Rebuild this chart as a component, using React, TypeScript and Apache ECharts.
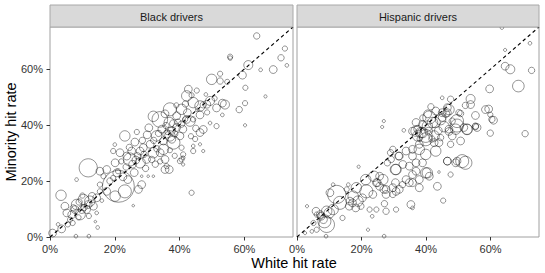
import React, { useEffect, useRef } from "react";
import * as echarts from "echarts";

// [white hit rate %, minority hit rate %, relative stop weight]
const blackPoints: number[][] = [
  [63.8,71.8,6],[72.5,67.3,4],[71.3,64.0,6],[73.1,61.3,2],[68.9,59.8,9],[65.0,59.7,2],[61.2,61.4,12],[59.4,57.8,9],[55.6,64.4,4],[55.6,63.9,3],
  [52.5,58.3,4],[54.7,55.4,4],[49.9,56.3,16],[52.5,55.7,6],[60.3,53.3,4],[66.5,50.2,1.5],[60.2,47.8,4],[58.4,45.5,6],[45.3,52.3,4],[48.1,50.9,2],
  [54.0,47.3,12],[53.2,43.6,2],[51.4,46.1,9],[60.2,39.9,1.5],[49.4,40.7,2],[47.3,38.4,9],
  [49.4,48.6,12],[47.3,47.2,6],[45.5,45.4,2],[43.7,50.6,4],[44.2,48.0,16],[42.4,44.4,9],[43.2,41.4,16],[41.7,42.0,4],[40.6,40.3,6],[39.1,39.1,9],
  [36.8,40.9,16],[36.0,36.7,9],[37.6,34.9,9],[35.0,34.3,9],[32.9,36.1,16],[30.9,33.1,9],[28.8,31.9,9],[27.8,30.7,9],[26.2,33.9,9],[25.2,30.7,9],
  [23.1,36.1,16],[23.7,28.9,9],[21.6,30.1,9],[24.7,27.7,25],[19.5,30.7,4],[20.1,26.5,9],[20.6,22.9,9],[34.0,30.1,9],[35.5,27.7,9],[31.4,27.7,6],
  [40.6,31.9,4],[44.2,30.7,4],[47.3,30.7,1.5],[46.3,33.1,1.5],[51.4,39.6,4],[40.6,27.7,4],[41.1,25.9,1.5],[35.5,24.1,9],[30.3,21.7,1],[31.9,21.7,1],
  [28.3,21.7,1],[44.2,42.0,4],
  [11.8,24.7,49],[21.1,18.1,150],[43.7,15.8,4],[8.2,20.5,2],[3.4,14.9,16],[0.8,1.4,9],[3.6,2.9,9],[14.7,3.4,2],[25.7,11.2,1],[41.1,28.3,2],
  [36.8,24.1,9],[36.0,25.3,4],[28.3,18.7,9],[27.3,17.0,9],[23.1,16.3,25],[20.1,14.6,16],[17.5,24.1,9],[15.4,23.5,9],[19.5,21.1,4],[17.5,16.3,9],
  [15.4,16.3,4],[14.4,14.0,9],[12.3,12.8,16],[10.3,13.4,16],[8.2,11.6,16],[7.7,9.8,9],[6.7,8.0,9],[6.2,6.2,4],[5.2,8.6,9],[9.8,9.8,9],
  [11.3,9.8,9],[9.3,8.0,16],[11.8,11.6,9],[13.4,11.0,9],[14.4,8.6,2],[7.2,10.4,6],[4.6,11.0,9],[15.4,18.7,4],[16.5,21.7,4],[27.8,26.5,16],
  [29.8,27.7,9],[31.9,30.1,16],[35.0,31.3,16],[38.1,33.7,25],[40.1,36.1,9],[37.0,36.1,16],[46.3,37.3,9],[44.2,32.5,2],
  [42.2,50.4,16],[40.6,45.6,16],[37.0,45.6,25],[33.9,42.0,36],[31.9,43.1,16],[39.1,43.3,9],[46.3,46.8,16],[48.4,47.4,9],[53.2,47.8,9],[46.3,43.6,9],
  [42.2,42.0,9],[38.1,40.5,9],[42.7,52.8,9],
  [34.5,38.5,9],[35.8,39.8,6],[37.5,38.0,9],[38.5,36.8,6],[36.2,37.5,4],[33.5,37.0,6],[39.5,41.0,6],[41.0,38.5,9],[32.0,34.5,6],[30.0,36.5,9],
  [28.5,34.5,6],[27.0,29.0,6],[25.5,26.0,9],[23.5,25.0,6],[22.0,27.0,4],[26.5,27.5,9],[29.0,29.5,6],[33.0,31.5,6],[37.0,31.0,4],[38.5,29.0,4],
  [21.0,23.5,4],[18.5,20.0,6],[13.0,14.5,9],[10.5,10.5,6],[9.0,12.5,6],[7.0,5.0,4],[5.5,4.5,4],[2.5,4.5,2],[16.0,13.0,2],[12.0,7.5,4],
  [10.0,14.8,4],[8.8,7.0,4],[24.0,20.5,9],[26.0,23.0,9],[22.5,21.5,9],[29.5,24.5,6],[32.5,26.0,6],[34.0,27.0,4],[43.5,36.0,4],[45.0,38.8,6],
  [44.8,35.0,4],[48.5,44.5,4],[50.8,49.5,4],[41.8,47.5,6],[39.0,47.0,4],[35.5,44.0,9],[30.5,39.0,9],[26.8,37.5,4],[24.5,32.0,6],[20.0,33.0,2],
  [14.0,5.5,1],[8.0,0.3,2],[12.0,0.3,2],[41.1,29.5,4],[40.1,27.1,4]
];

const hispanicPoints: number[][] = [
  [63.5,74.8,2],[72.2,69.2,2],[64.5,66.8,1.5],[64.5,61.0,9],[66.1,59.9,12],[72.7,59.5,6],[68.6,53.9,20],[59.7,52.9,9],[45.0,49.7,2],[53.8,49.3,12],
  [53.8,47.3,9],[52.2,47.0,6],[58.4,45.5,9],[59.4,45.7,9],[59.9,43.7,4],[60.9,41.7,9],[55.3,43.4,9],[50.7,44.1,6],[47.1,45.5,16],[46.1,44.1,9],
  [49.6,39.8,25],[52.7,38.4,16],[55.3,39.4,6],[59.9,37.1,6],[70.7,36.9,6],[44.5,41.9,16],[45.6,39.4,16],[47.1,37.7,9],
  [26.9,41.4,1.5],[26.4,39.3,1.5],[33.1,38.1,2],[60.4,42.0,6],[41.0,42.7,25],[42.8,40.9,16],[45.0,42.7,9],[48.1,41.4,6],[51.7,39.1,9],[55.8,39.1,9],
  [36.9,37.8,16],[38.4,37.3,16],[39.9,36.1,25],
  [52.2,26.5,25],[49.2,26.5,9],[46.6,27.1,9],[47.6,22.3,4],[44.0,23.2,1],[43.5,18.1,9],[40.4,22.9,16],[45.3,13.0,4],[47.6,33.1,6],[48.1,36.1,9],
  [50.7,34.3,9],[44.0,33.7,9],[43.0,30.7,16],[39.9,29.5,16],[37.9,31.3,16],[35.8,28.9,9],[38.9,26.5,9],[36.9,26.5,9],[34.8,25.3,9],[35.8,22.3,9],
  [34.8,19.4,9],[35.3,11.6,9],[35.8,10.4,2],[30.7,9.8,4],[30.7,16.3,9],[32.7,18.7,6],[29.7,17.6,9],[27.6,15.2,9],[25.6,18.1,9],[26.6,20.5,16],
  [24.6,19.4,9],[21.5,16.3,25],[23.5,15.2,9],[22.5,9.8,4],[24.6,9.8,4],[22.0,2.6,1.5],[18.4,17.6,16],[17.4,14.6,16],[18.9,12.8,16],[16.4,12.8,9],
  [15.4,17.0,4],[15.9,18.7,2],[11.2,18.7,2],[10.2,15.8,9],[12.3,15.2,49],[13.3,12.2,25],[11.2,9.8,16],[9.2,9.2,16],[7.2,8.0,9],[8.2,6.2,9],
  [6.1,8.0,4],[9.2,4.4,36],[5.1,5.0,4],[6.1,2.6,4],[4.6,2.0,2],[3.1,11.0,1.5],[2.5,1.4,1.5],[19.1,25.1,1.5],[27.6,9.2,6],[27.1,11.9,6],
  [5.9,9.2,9],[7.5,7.4,9],[8.5,5.6,25],[10.0,8.6,16],[17.2,12.2,9],[16.2,11.0,9],[18.2,10.4,9],[20.3,14.0,9],[19.8,11.0,6],[14.1,6.8,4],
  [23.3,7.4,2],[21.3,20.5,16],[23.8,21.7,16],[24.9,19.4,9],[26.9,17.0,9],[30.5,19.4,9],[30.5,24.1,16],[31.5,28.9,9],[29.0,30.1,6],[28.0,26.5,6],
  [46.6,44.4,9],[49.6,41.4,25],[52.7,38.5,16],[49.2,38.5,16],[47.1,38.5,9],[35.8,37.8,9],[37.4,36.1,16],[38.9,37.3,16],[39.9,34.9,25],[42.5,36.1,16],
  [42.5,33.7,9],[37.9,33.1,9],[35.8,31.3,9],[33.8,30.7,9],[31.7,28.9,9],[29.7,31.3,6],[29.2,27.7,6],[32.8,25.9,9],[30.7,24.1,16],[36.9,23.5,9],
  [39.9,22.9,16],[41.0,21.7,9],[37.9,20.5,9],[33.8,20.5,9],[51.2,27.1,25],[46.6,27.1,9],[49.6,27.1,9],[55.3,39.6,6],[50.2,44.4,6],[47.6,49.2,6],
  [46.6,46.2,9],[45.0,44.4,9],[42.0,40.9,16],[40.4,39.6,16],[38.9,40.2,9],[36.9,40.9,9],[37.4,38.5,9],[25.6,21.7,9],[27.6,17.0,9],[29.7,15.2,6],
  [31.7,17.0,9],[35.8,19.4,9],[37.9,17.6,9],[9.0,0.3,2],[27.0,0.3,2],
  [40.5,44.0,9],[41.5,46.5,6],[43.0,45.0,9],[39.0,42.5,6],[43.8,38.0,9],[41.8,35.0,6],[40.8,37.8,9],[44.5,35.5,6],[38.0,35.0,4]
];

const panelTitles = ["Black drivers", "Hispanic drivers"];
const tickValues = [0, 20, 40, 60];
const axisMax = 75;
const diagonal = [[0, 0], [axisMax, axisMax]];
const xTitle = "White hit rate";
const yTitle = "Minority hit rate";

const FONT = '"Liberation Sans", Arial, Helvetica, sans-serif';

export default function App() {
  const ref = useRef<HTMLDivElement>(null);
  useEffect(() => {
    if (!ref.current) return;
    const chart = echarts.init(ref.current, undefined, { renderer: "svg" });
    const grids = [
      { left: 50, top: 27, width: 243, height: 210 },
      { left: 297, top: 27, width: 242, height: 210 },
    ];
    const mkX = (i: number) => ({
      type: "value",
      gridIndex: i,
      min: 0,
      max: axisMax,
      interval: 20,
      splitLine: { show: false },
      axisLine: { show: false },
      axisTick: { show: true, length: 3.5, customValues: tickValues, lineStyle: { color: "#333", width: 1 } },
      axisLabel: {
        customValues: tickValues,
        formatter: (v: number) => `${v}%`,
        fontSize: 11,
        color: "#333",
        fontFamily: FONT,
        margin: 6,
      },
    });
    const mkY = (i: number) => ({
      type: "value",
      gridIndex: i,
      min: 0,
      max: axisMax,
      interval: 20,
      splitLine: { show: false },
      axisLine: { show: false },
      axisTick: { show: i === 0, length: 3.5, customValues: tickValues, lineStyle: { color: "#333", width: 1 } },
      axisLabel: {
        show: i === 0,
        customValues: tickValues,
        formatter: (v: number) => `${v}%`,
        fontSize: 11,
        color: "#333",
        fontFamily: FONT,
        margin: 7,
      },
    });
    const sets = [blackPoints, hispanicPoints];
    const series: any[] = [];
    sets.forEach((pts, i) => {
      series.push({
        type: "scatter",
        xAxisIndex: i,
        yAxisIndex: i,
        data: pts,
        symbol: "circle",
        symbolSize: (d: number[]) => 2.6 * Math.sqrt(d[2]),
        itemStyle: { color: "rgba(0,0,0,0)", borderColor: "rgba(0,0,0,0.7)", borderWidth: 0.75 },
        clip: true,
        z: 2,
      });
      series.push({
        type: "line",
        xAxisIndex: i,
        yAxisIndex: i,
        data: diagonal,
        showSymbol: false,
        lineStyle: { color: "#000", width: 1.1, type: [3.5, 3] },
        z: 3,
      });
    });
    const graphics: any[] = [];
    grids.forEach((g, i) => {
      graphics.push({
        type: "rect",
        shape: { x: g.left, y: 5, width: g.width, height: 22 },
        style: { fill: "#d9d9d9", stroke: "#a8a8a8", lineWidth: 1 },
        z: 10,
      });
      graphics.push({
        type: "text",
        x: g.left + g.width / 2,
        y: 16.5,
        style: {
          text: panelTitles[i],
          fontSize: 11,
          fontFamily: FONT,
          fill: "#1a1a1a",
          textAlign: "center",
          textVerticalAlign: "middle",
        },
        z: 11,
      });
    });
    graphics.push({
      type: "text",
      x: 294,
      y: 263,
      style: { text: xTitle, fontSize: 14.5, fontFamily: FONT, fill: "#000", textAlign: "center", textVerticalAlign: "middle" },
    });
    graphics.push({
      type: "text",
      x: 11,
      y: 132,
      rotation: Math.PI / 2,
      style: { text: yTitle, fontSize: 14.5, fontFamily: FONT, fill: "#000", textAlign: "center", textVerticalAlign: "middle" },
    });
    chart.setOption({
      animation: false,
      backgroundColor: "#fff",
      grid: grids.map((g) => ({ ...g, show: true, borderColor: "#a0a0a0", borderWidth: 1, backgroundColor: "#fff" })),
      xAxis: [mkX(0), mkX(1)],
      yAxis: [mkY(0), mkY(1)],
      series,
      graphic: graphics,
    });
    return () => chart.dispose();
  }, []);
  return <div ref={ref} style={{ position: "fixed", left: 0, top: 0, width: 545, height: 273 }} />;
}
